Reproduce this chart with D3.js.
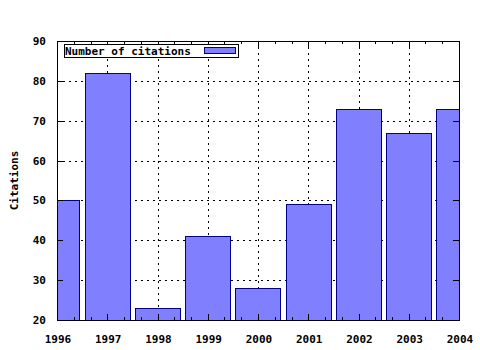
<!DOCTYPE html>
<html>
<head>
<meta charset="utf-8">
<script src="https://cdn.jsdelivr.net/npm/d3@7"></script>
<style>
  body { margin: 0; background: #fff; }
  text { font-family: "DejaVu Sans Mono", "Liberation Mono", monospace; font-weight: bold; font-size: 11px; fill: #000; }
</style>
</head>
<body>
<svg id="chart" width="480" height="350"></svg>
<script>
const years = [1996, 1997, 1998, 1999, 2000, 2001, 2002, 2003, 2004];
const citations = [50, 82, 23, 41, 28, 49, 73, 67, 73];
const yTicks = [20, 30, 40, 50, 60, 70, 80, 90];
const seriesName = "Number of citations";

const margin = { left: 57, top: 41, right: 459, bottom: 320 };
const svg = d3.select("#chart");

const x = d3.scaleLinear().domain([1996, 2004]).range([margin.left, margin.right]);
const y = d3.scaleLinear().domain([20, 90]).range([margin.bottom, margin.top]);

const barW = (x(1997) - x(1996)) * 0.9;

// clip for bars at the edges
svg.append("defs").append("clipPath").attr("id", "plot")
    .append("rect")
    .attr("x", margin.left).attr("y", margin.top)
    .attr("width", margin.right - margin.left)
    .attr("height", margin.bottom - margin.top);

// grid
const grid = svg.append("g").attr("stroke", "#000").attr("stroke-dasharray", "2,4").attr("shape-rendering", "crispEdges");
grid.selectAll("line.gy")
    .data(yTicks.slice(1, -1))
    .join("line")
    .attr("x1", margin.left).attr("x2", margin.right)
    .attr("y1", d => Math.round(y(d)) + 0.5).attr("y2", d => Math.round(y(d)) + 0.5);
grid.selectAll("line.gx")
    .data(years.slice(1, -1))
    .join("line")
    .attr("y1", margin.top).attr("y2", margin.bottom)
    .attr("x1", d => Math.round(x(d)) + 0.5).attr("x2", d => Math.round(x(d)) + 0.5);

// bars
svg.append("g").attr("clip-path", "url(#plot)")
    .selectAll("rect")
    .data(years.map((yr, i) => ({ yr, v: citations[i] })))
    .join("rect")
    .attr("x", d => Math.round(x(d.yr) - barW / 2) + 0.5)
    .attr("y", d => Math.round(y(d.v)) + 0.5)
    .attr("width", Math.round(barW))
    .attr("height", d => Math.round(y(20) - y(d.v)))
    .attr("fill", "#8080ff")
    .attr("stroke", "#00008b")
    .attr("stroke-width", 1);

// ticks (major + minor, mirrored)
const ticks = svg.append("g").attr("stroke", "#000").attr("shape-rendering", "crispEdges");
const minorX = [];
years.slice(0, -1).forEach(yr => { minorX.push(yr + 1 / 3, yr + 2 / 3); });
years.forEach(yr => {
    const px = Math.round(x(yr)) + 0.5;
    ticks.append("line").attr("x1", px).attr("x2", px).attr("y1", margin.bottom).attr("y2", margin.bottom - 6);
    ticks.append("line").attr("x1", px).attr("x2", px).attr("y1", margin.top).attr("y2", margin.top + 6);
});
minorX.forEach(v => {
    const px = Math.round(x(v)) + 0.5;
    ticks.append("line").attr("x1", px).attr("x2", px).attr("y1", margin.bottom).attr("y2", margin.bottom - 3);
    ticks.append("line").attr("x1", px).attr("x2", px).attr("y1", margin.top).attr("y2", margin.top + 3);
});
yTicks.forEach(v => {
    const py = Math.round(y(v)) + 0.5;
    ticks.append("line").attr("x1", margin.left).attr("x2", margin.left + 6).attr("y1", py).attr("y2", py);
    ticks.append("line").attr("x1", margin.right).attr("x2", margin.right - 6).attr("y1", py).attr("y2", py);
});

// border
svg.append("rect")
    .attr("x", margin.left + 0.5).attr("y", margin.top + 0.5)
    .attr("width", margin.right - margin.left).attr("height", margin.bottom - margin.top)
    .attr("fill", "none").attr("stroke", "#000").attr("shape-rendering", "crispEdges");

// tick labels
svg.append("g").selectAll("text")
    .data(yTicks)
    .join("text")
    .attr("x", 46).attr("y", d => y(d) + 4)
    .attr("text-anchor", "end")
    .text(d => d);
svg.append("g").selectAll("text")
    .data(years)
    .join("text")
    .attr("x", d => x(d) + 1).attr("y", 343)
    .attr("text-anchor", "middle")
    .text(d => d);

// axis title
svg.append("text")
    .attr("transform", `translate(18,${(margin.top + margin.bottom) / 2}) rotate(-90)`)
    .attr("text-anchor", "middle")
    .text("Citations");

// legend
const lg = svg.append("g");
lg.append("rect")
    .attr("x", 64.5).attr("y", 44.5).attr("width", 174).attr("height", 13)
    .attr("fill", "#fff").attr("stroke", "#000").attr("shape-rendering", "crispEdges");
lg.append("text").attr("x", 65).attr("y", 55).text(seriesName);
lg.append("rect")
    .attr("x", 204.5).attr("y", 47.5).attr("width", 31).attr("height", 6)
    .attr("fill", "#8080ff").attr("stroke", "#00008b").attr("shape-rendering", "crispEdges");
</script>
</body>
</html>
